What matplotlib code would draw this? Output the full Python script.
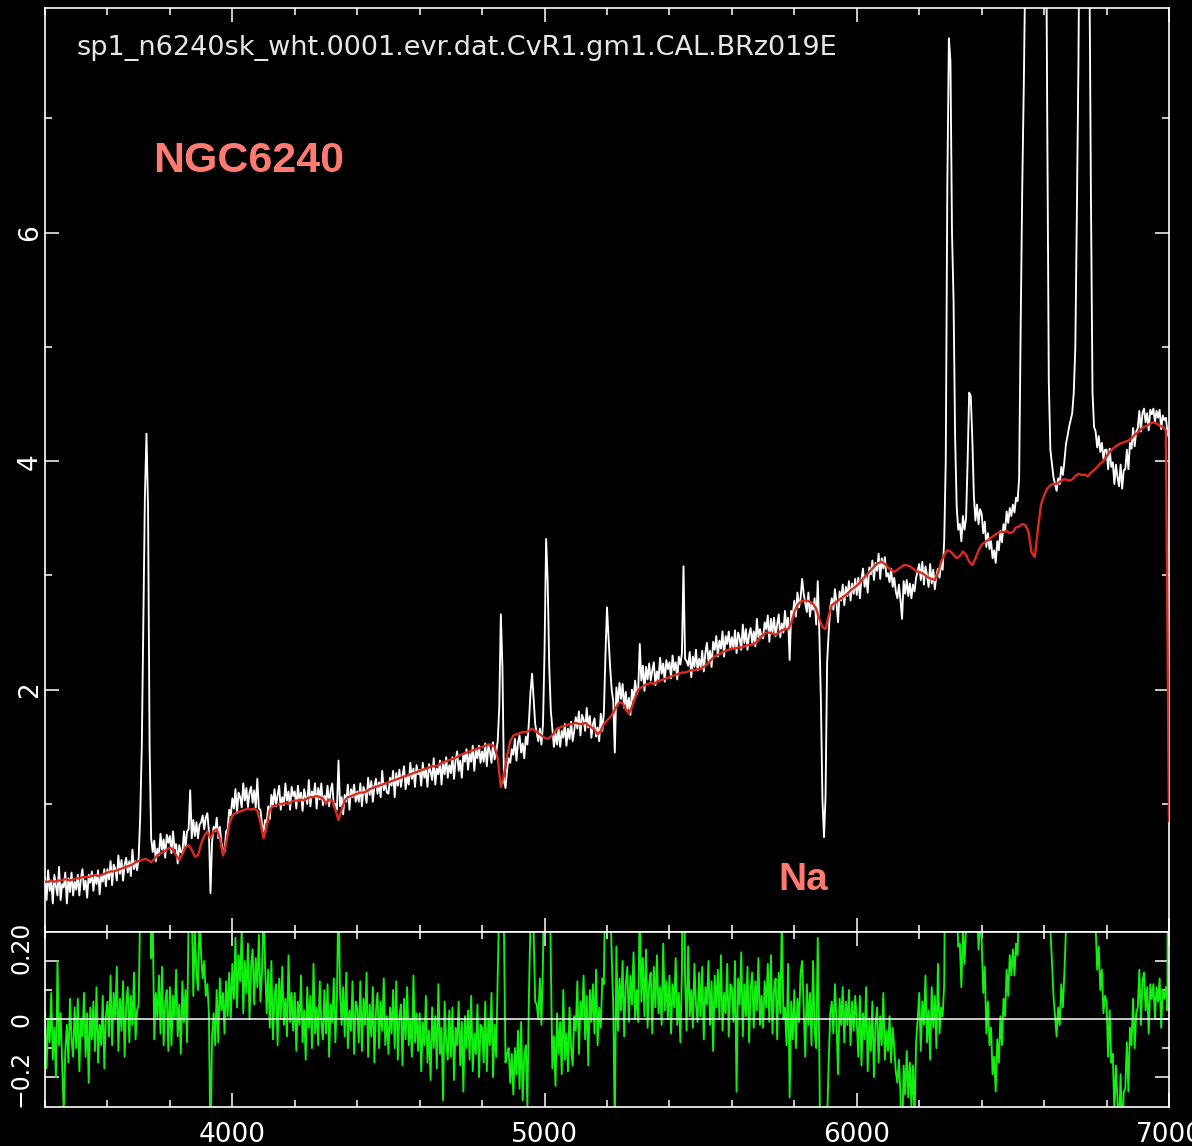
import numpy as np
import matplotlib
matplotlib.use("Agg")
import matplotlib.pyplot as plt
from matplotlib.ticker import FixedLocator, MultipleLocator
from matplotlib import transforms

# ---------------------------------------------------------------------------
# Spectrum of NGC6240 (rest-frame wavelength, Angstrom) with the fitted model
# and the residual.  Values are stored in 100 A blocks starting at 3400 A.
# Observed flux and residual: 5 A steps; model: 10 A steps.
# ---------------------------------------------------------------------------
WAVE_START = 3400
OBS_STEP = 5
MODEL_STEP = 10

title_text = "sp1_n6240sk_wht.0001.evr.dat.CvR1.gm1.CAL.BRz019E"
object_name = "NGC6240"
line_label = "Na"
line_label_wave = 5890

x_tick_labels = [4000, 5000, 6000, 7000]
flux_tick_labels = [2, 4, 6]
resid_tick_labels = [(0.2, "0.20"), (0.0, "0"), (-0.2, "\u22120.2")]

observed_blocks = [
    [.36, .16, .42, .24, .33, .13, .38, .28, .20, .45, .16, .30, .27, .40, .13, .35, .23, .40, .20, .32],
    [.25, .38, .20, .35, .43, .25, .33, .18, .38, .31, .41, .24, .38, .30, .42, .21, .38, .32, .43, .28],
    [.43, .34, .50, .29, .47, .43, .33, .55, .39, .51, .33, .47, .53, .40, .50, .37, .60, .43, .50, .42],
    [.53, .90, 1.50, 2.60, 3.70, 4.24, 3.60, 1.50, .70, .58, .68, .50, .61, .55, .74, .60, .69, .53, .73, .66],
    [.72, .57, .76, .61, .65, .48, .64, .58, .57, .76, .62, .76, .78, 1.12, .70, .86, .72, .84, .70, .82],
    [.84, .90, .78, .88, .92, .76, .22, .66, .80, .76, .88, .70, .80, .66, .60, .58, .76, .78, .95, .90],
    [1.05, .96, 1.13, .92, 1.10, 1.06, .97, 1.18, 1.03, 1.14, .97, 1.10, 1.15, 1.01, 1.12, .97, 1.22, .96, .95, .82],
    [.76, .86, .84, .98, .87, 1.08, .99, 1.13, .98, 1.08, 1.16, .95, 1.06, .99, 1.18, 1.03, 1.11, .95, 1.15, 1.07],
    [1.11, .96, 1.16, 1.03, 1.10, .94, 1.13, 1.06, 1.00, 1.21, .98, 1.11, 1.06, 1.18, .96, 1.14, 1.04, 1.18, .99, 1.07],
    [1.03, 1.16, .98, 1.12, 1.18, .98, 1.00, .95, 1.38, .98, 1.06, .91, 1.08, 1.02, 1.17, .95, 1.13, 1.06, 1.17, 1.02],
    [1.11, 1.02, 1.18, .98, 1.15, 1.11, 1.01, 1.23, 1.08, 1.20, 1.02, 1.16, 1.22, 1.09, 1.19, 1.06, 1.29, 1.12, 1.18, 1.10],
    [1.09, 1.23, 1.16, 1.29, 1.06, 1.27, 1.16, 1.30, 1.15, 1.25, 1.33, 1.13, 1.24, 1.17, 1.36, 1.22, 1.31, 1.15, 1.34, 1.26],
    [1.30, 1.16, 1.36, 1.23, 1.30, 1.15, 1.35, 1.28, 1.21, 1.40, 1.17, 1.31, 1.26, 1.38, 1.17, 1.35, 1.26, 1.41, 1.23, 1.34],
    [1.27, 1.41, 1.22, 1.38, 1.46, 1.29, 1.38, 1.23, 1.44, 1.37, 1.48, 1.30, 1.44, 1.37, 1.51, 1.29, 1.47, 1.40, 1.51, 1.36],
    [1.46, 1.37, 1.53, 1.33, 1.51, 1.46, 1.36, 1.54, 1.39, 1.45, 1.55, 1.85, 2.66, 2.20, 1.20, 1.14, 1.30, 1.40, 1.36, 1.48],
    [1.43, 1.57, 1.38, 1.54, 1.60, 1.45, 1.53, 1.40, 1.59, 1.52, 1.72, 1.98, 2.14, 1.92, 1.70, 1.62, 1.55, 1.66, 1.52, 1.70],
    [2.35, 3.32, 2.95, 2.20, 1.82, 1.66, 1.50, 1.62, 1.52, 1.66, 1.50, 1.64, 1.58, 1.70, 1.51, 1.66, 1.57, 1.72, 1.55, 1.64],
    [1.76, 1.66, 1.81, 1.60, 1.78, 1.74, 1.64, 1.84, 1.67, 1.77, 1.58, 1.70, 1.75, 1.59, 1.67, 1.55, 1.79, 1.64, 1.80, 2.30],
    [2.72, 2.45, 2.20, 2.00, 1.90, 1.45, 2.02, 1.88, 2.06, 1.92, 2.05, 1.84, 1.98, 1.82, 1.93, 1.78, 2.00, 1.90, 2.08, 1.96],
    [2.00, 2.40, 2.08, 2.21, 1.99, 2.20, 2.09, 2.23, 2.08, 2.17, 2.24, 2.04, 2.16, 2.09, 2.28, 2.14, 2.23, 2.07, 2.26, 2.18],
    [2.24, 2.10, 2.30, 2.17, 2.24, 2.09, 2.29, 2.22, 2.32, 3.08, 2.27, 2.25, 2.21, 2.33, 2.11, 2.29, 2.20, 2.35, 2.17, 2.27],
    [2.20, 2.34, 2.16, 2.32, 2.41, 2.25, 2.34, 2.20, 2.42, 2.35, 2.47, 2.29, 2.43, 2.36, 2.51, 2.29, 2.47, 2.40, 2.51, 2.36],
    [2.46, 2.36, 2.52, 2.32, 2.50, 2.45, 2.35, 2.57, 2.41, 2.53, 2.35, 2.48, 2.54, 2.41, 2.51, 2.38, 2.62, 2.46, 2.53, 2.46],
    [2.45, 2.59, 2.53, 2.65, 2.42, 2.62, 2.50, 2.63, 2.47, 2.57, 2.66, 2.46, 2.58, 2.50, 2.69, 2.54, 2.63, 2.26, 2.69, 2.65],
    [2.78, 2.64, 2.85, 2.72, 2.80, 2.97, 2.84, 2.76, 2.68, 2.85, 2.64, 2.76, 2.70, 2.80, 2.57, 2.95, 2.50, 1.92, 1.04, 0.71],
    [1.07, 2.24, 2.50, 2.72, 2.80, 2.70, 2.88, 2.76, 2.59, 2.86, 2.78, 2.92, 2.74, 2.90, 2.82, 2.95, 2.78, 2.93, 2.84, 2.97],
    [2.83, 2.98, 2.80, 2.97, 3.06, 2.90, 2.99, 2.85, 3.07, 3.01, 3.13, 2.96, 3.11, 3.04, 3.19, 2.97, 3.15, 3.06, 3.16, 2.99],
    [3.02, 2.94, 3.06, 2.90, 2.98, 2.86, 2.80, 2.92, 2.78, 2.62, 2.95, 2.84, 2.96, 2.82, 2.93, 2.80, 2.92, 2.86, 2.98, 3.04],
    [3.10, 2.96, 3.12, 2.92, 3.08, 3.00, 2.90, 3.10, 2.93, 3.05, 2.88, 3.00, 3.06, 2.98, 3.10, 3.05, 3.30, 4.00, 6.40, 7.70],
    [7.50, 6.00, 5.40, 4.20, 3.60, 3.40, 3.45, 3.30, 3.52, 3.40, 3.50, 4.00, 4.60, 4.57, 4.20, 3.70, 3.48, 3.62, 3.45, 3.58],
    [3.54, 3.37, 3.47, 3.25, 3.37, 3.23, 3.30, 3.15, 3.22, 3.11, 3.30, 3.22, 3.39, 3.29, 3.45, 3.39, 3.56, 3.46, 3.59, 3.52],
    [3.62, 3.55, 3.68, 3.65, 3.85, 5.20, 6.40, 7.30, 8.40, 10.5, 13.0, 15.5, 17.0, 18.0, 16.5, 15.5, 16.5, 15.0, 13.5, 12.8],
    [11.5, 9.5, 7.0, 4.70, 4.10, 3.98, 3.86, 3.80, 3.74, 3.85, 3.80, 3.95, 3.88, 4.00, 4.15, 4.22, 4.30, 4.36, 4.42, 4.60],
    [5.00, 6.20, 7.50, 9.50, 11.5, 12.0, 11.0, 11.5, 10.0, 8.40, 6.30, 4.60, 4.30, 4.26, 4.12, 4.22, 4.08, 4.16, 4.02, 4.10],
    [4.10, 3.93, 4.11, 3.95, 3.99, 3.80, 3.97, 3.86, 3.78, 3.97, 3.76, 3.92, 3.93, 4.10, 3.93, 4.16, 4.11, 4.29, 4.13, 4.26],
    [4.29, 4.44, 4.26, 4.42, 4.46, 4.34, 4.42, 4.27, 4.45, 4.41, 4.46, 4.34, 4.44, 4.38, 4.45, 4.28, 4.40, 4.36, 4.38, 4.25, 4.20],
]

model_blocks = [
    [.32, .32, .33, .32, .33, .33, .34, .34, .33, .34],
    [.35, .35, .36, .36, .36, .37, .38, .37, .38, .39],
    [.40, .41, .41, .42, .43, .44, .45, .46, .47, .49],
    [.50, .51, .52, .51, .49, .52, .55, .57, .58, .60],
    [.62, .60, .55, .51, .56, .62, .64, .60, .54, .55],
    [.65, .72, .76, .70, .76, .78, .70, .55, .65, .82],
    [.90, .92, .93, .94, .95, .96, .95, .96, .94, .84],
    [.70, .80, .95, .98, .99, 1.00, 1.00, 1.01, 1.00, 1.02],
    [1.03, 1.03, 1.04, 1.03, 1.05, 1.06, 1.06, 1.07, 1.06, 1.05],
    [1.00, 1.04, 1.03, .95, .86, .95, 1.03, 1.06, 1.07, 1.08],
    [1.09, 1.10, 1.10, 1.11, 1.13, 1.14, 1.15, 1.16, 1.17, 1.18],
    [1.19, 1.20, 1.21, 1.22, 1.23, 1.24, 1.25, 1.26, 1.27, 1.28],
    [1.29, 1.30, 1.31, 1.32, 1.33, 1.33, 1.34, 1.36, 1.37, 1.38],
    [1.39, 1.40, 1.41, 1.43, 1.44, 1.45, 1.46, 1.47, 1.48, 1.49],
    [1.50, 1.51, 1.52, 1.52, 1.50, 1.40, 1.15, 1.25, 1.42, 1.55],
    [1.60, 1.61, 1.62, 1.63, 1.63, 1.64, 1.66, 1.64, 1.62, 1.60],
    [1.58, 1.57, 1.59, 1.62, 1.66, 1.67, 1.68, 1.69, 1.70, 1.70],
    [1.71, 1.70, 1.70, 1.71, 1.69, 1.67, 1.65, 1.61, 1.64, 1.70],
    [1.73, 1.76, 1.80, 1.85, 1.89, 1.88, 1.83, 1.79, 1.85, 1.93],
    [2.00, 2.02, 2.04, 2.05, 2.06, 2.05, 2.07, 2.08, 2.09, 2.10],
    [2.11, 2.12, 2.13, 2.14, 2.15, 2.15, 2.16, 2.17, 2.17, 2.18],
    [2.18, 2.20, 2.22, 2.25, 2.28, 2.30, 2.31, 2.33, 2.34, 2.35],
    [2.36, 2.36, 2.37, 2.37, 2.38, 2.39, 2.39, 2.40, 2.42, 2.45],
    [2.48, 2.50, 2.50, 2.49, 2.48, 2.50, 2.52, 2.53, 2.53, 2.58],
    [2.68, 2.74, 2.77, 2.78, 2.78, 2.77, 2.75, 2.71, 2.62, 2.55],
    [2.53, 2.65, 2.74, 2.76, 2.78, 2.80, 2.82, 2.84, 2.87, 2.89],
    [2.91, 2.94, 2.97, 3.00, 3.03, 3.06, 3.09, 3.11, 3.12, 3.10],
    [3.07, 3.05, 3.03, 3.05, 3.07, 3.09, 3.09, 3.08, 3.06, 3.04],
    [3.03, 3.02, 3.00, 2.98, 2.97, 2.96, 3.02, 3.12, 3.18, 3.22],
    [3.21, 3.18, 3.15, 3.17, 3.21, 3.18, 3.12, 3.09, 3.15, 3.22],
    [3.27, 3.29, 3.31, 3.33, 3.35, 3.37, 3.38, 3.38, 3.39, 3.37],
    [3.38, 3.42, 3.43, 3.45, 3.44, 3.38, 3.20, 3.16, 3.40, 3.62],
    [3.70, 3.76, 3.79, 3.80, 3.80, 3.82, 3.84, 3.84, 3.83, 3.84],
    [3.87, 3.89, 3.88, 3.88, 3.87, 3.90, 3.92, 3.95, 3.98, 4.00],
    [4.04, 4.08, 4.11, 4.13, 4.15, 4.16, 4.17, 4.18, 4.20, 4.23],
    [4.25, 4.28, 4.30, 4.31, 4.33, 4.34, 4.33, 4.31, 4.30, 4.27, 0.85],
]

residual_blocks = [
    [.03, -.17, .00, -.08, .09, -.14, -.03, -.20, .20, -.09, .02, -.16, -.32, -.11, -.02, -.15, .07, -.07, -.13, .04],
    [-.10, .07, -.18, .00, -.06, .09, -.13, .02, -.22, .04, -.07, .06, -.11, .11, -.15, -.02, -.09, .08, -.17, .01],
    [.06, -.06, .15, -.09, .09, .00, .18, -.11, .07, -.04, .13, -.13, .05, .11, -.08, .08, -.02, .16, -.07, .03],
    [.05, .40, 1.0, 2.1, 3.2, 3.7, 3.1, 1.0, .21, .35, -.07, .09, .00, .15, -.05, .18, -.09, .06, .10, -.11],
    [.11, -.09, .08, .00, .17, -.06, .05, -.12, .13, -.01, .10, -.08, .36, .50, .40, .08, .30, .16, .10, .36],
    [.22, .14, .20, .08, .12, .02, -.45, -.06, .02, -.09, .10, -.08, .14, .03, .09, -.05, .13, .01, .16, .00],
    [.19, .07, .28, .04, .22, .13, .31, .02, .20, .09, .26, .00, .18, .24, .05, .21, .11, .29, .06, .16],
    [.40, .18, .02, .17, -.03, .20, -.07, .08, .12, -.09, .14, .00, .18, -.02, .07, -.06, .22, -.01, .09, -.04],
    [.09, -.11, .06, -.02, .15, -.08, .03, -.14, .11, -.03, .08, -.10, .19, -.05, .04, -.09, .13, -.01, -.07, .10],
    [-.05, .12, -.13, .05, -.01, .14, -.08, .07, .45, .09, -.02, .11, -.06, .16, -.10, .03, -.04, .13, -.12, .06],
    [.04, -.08, .13, -.11, .07, -.02, .16, -.13, .05, -.06, .11, -.15, .03, .09, -.10, .06, -.04, .14, -.09, .01],
    [-.12, .04, -.05, .10, -.10, .13, -.14, .01, .05, -.16, .07, -.07, .11, -.09, .00, -.13, .15, -.08, .02, -.11],
    [.02, -.18, -.01, -.09, .08, -.15, -.04, -.21, .04, -.10, .01, -.17, .12, -.12, -.03, -.28, .06, -.08, -.14, .03],
    [-.13, .04, -.21, -.03, -.09, .06, -.16, -.01, -.25, .01, -.10, .03, -.14, .08, -.18, -.05, -.12, .05, -.20, -.02],
    [-.03, -.15, .06, -.18, .00, -.09, .09, -.20, -.02, -.13, .15, .40, 1.5, .95, .30, -.15, -.12, -.10, -.22, -.12],
    [-.26, -.10, -.19, -.04, -.24, -.01, -.28, -.13, -.09, -.30, .08, .35, .50, .30, .06, .05, .00, .14, -.02, .20],
    [.75, 1.75, 1.35, .60, .20, -.17, -.06, -.23, .02, -.12, -.01, -.19, .10, -.14, -.05, -.18, .04, -.10, -.16, .01],
    [-.04, .13, -.12, .06, .00, .15, -.07, .08, -.16, .10, -.01, .12, -.05, .17, -.09, .04, -.03, .14, .12, .58],
    [.99, .70, .44, .22, .05, -.38, .25, -.04, .14, .03, .20, -.06, .12, .18, -.01, .15, .05, .23, .00, .10],
    [-.01, .42, .06, .21, .01, .24, -.03, .12, .16, -.05, .18, .04, .22, .02, .11, -.02, .26, .03, .13, .00],
    [.15, -.05, .12, .04, .21, -.02, .09, -.08, .17, .93, .14, -.04, .25, .01, .10, -.03, .19, .05, -.01, .16],
    [.01, .18, -.07, .11, .05, .20, -.02, .13, -.11, .15, .04, .17, .00, .22, -.04, .09, .02, .19, -.06, .12],
    [.11, -.01, .20, -.25, .14, .05, .23, -.06, .12, .01, .18, -.08, .10, .16, -.03, .13, .03, .21, -.02, .08],
    [-.03, .13, .04, .19, -.01, .22, -.05, .10, .14, -.07, .16, .02, .35, .00, .04, -.09, .19, -.27, .06, -.07],
    [.10, -.10, .07, -.01, .16, .20, .04, -.13, .12, -.02, .09, -.09, .20, -.04, -.10, .28, -.12, -.67, -1.5, -1.8],
    [-1.46, -.35, -.15, .02, .06, -.05, .12, -.01, -.19, .07, -.02, .11, -.08, .06, -.02, .10, -.09, .06, -.04, .08],
    [-.01, -.13, .08, -.16, .02, -.07, .11, -.18, .00, -.11, .06, -.20, -.02, .04, -.15, .01, -.09, .09, -.14, -.04],
    [-.11, .01, -.15, -.03, -.10, -.18, -.22, -.14, -.26, -.45, -.16, -.26, -.11, -.27, -.15, -.30, -.16, -.35, -.08, .00],
    [.09, -.11, .06, -.02, .15, -.08, .03, -.14, .11, -.03, .08, -.10, .19, -.05, .04, .01, .12, .85, 3.2, 4.5],
    [4.3, 2.8, 2.2, 1.0, .42, .25, .26, .11, .31, .19, .32, .85, 1.45, 1.44, 1.1, .62, .33, .42, .24, .34],
    [.27, .09, .18, -.05, .06, -.09, -.03, -.19, -.13, -.25, -.07, -.15, .01, -.09, .07, .01, .17, .08, .22, .15],
    [.24, .15, .26, .22, .42, 1.76, 2.95, 3.86, 4.99, 7.1, 9.7, 12.3, 13.8, 14.8, 13.3, 12.3, 13.3, 11.8, 9.3, 7.2],
    [8.3, 5.8, 3.2, .94, .31, .20, .08, .01, -.06, .04, -.02, .12, .04, .16, .31, .38, .47, .53, .58, .75],
    [1.13, 2.32, 3.61, 5.6, 7.6, 8.1, 7.1, 7.6, 6.13, 4.5, 2.4, .69, .38, .32, .17, .25, .10, .17, .02, .08],
    [.06, -.13, .03, -.15, -.12, -.32, -.16, -.28, -.37, -.19, -.40, -.25, -.24, -.08, -.25, -.03, -.09, .07, -.10, .02],
    [.04, .17, -.02, .13, .16, .03, .11, -.05, .12, .07, .12, .00, .11, .06, .14, -.03, .10, .07, .11, .03, 3.35],
]


def unpack(blocks, step, start=WAVE_START, span=100):
    """Turn 100 A blocks into (wavelength, value) arrays."""
    waves, vals = [], []
    for k, blk in enumerate(blocks):
        w0 = start + k * span
        waves.extend(w0 + step * np.arange(len(blk)))
        vals.extend(blk)
    return np.asarray(waves, float), np.asarray(vals, float)


wave_obs, flux_obs = unpack(observed_blocks, OBS_STEP)
wave_mod, flux_mod = unpack(model_blocks, MODEL_STEP)
wave_res, flux_res = unpack(residual_blocks, OBS_STEP)

# ---------------------------------------------------------------------------
W, H = 1192, 1146
fig = plt.figure(figsize=(W / 100, H / 100), dpi=100, facecolor="black")


def px_box(left, top, right, bottom):
    return [left / W, 1 - bottom / H, (right - left) / W, (bottom - top) / H]


ax = fig.add_axes(px_box(45, 7.5, 1169, 932))
axr = fig.add_axes(px_box(45, 932, 1169, 1107))

FG = "white"
for a in (ax, axr):
    a.set_facecolor("black")
    for s in a.spines.values():
        s.set_color(FG)
        s.set_linewidth(1.2)
    a.set_xlim(3400, 7000)
    a.xaxis.set_major_locator(MultipleLocator(1000))
    a.xaxis.set_minor_locator(MultipleLocator(200))
    a.tick_params(which="both", direction="in", colors=FG, top=True, right=True,
                  width=1.1, labelbottom=False, labelleft=False)
    a.tick_params(which="major", length=10)
    a.tick_params(which="minor", length=5)

# upper panel: flux and model
ax.set_ylim(-0.12, 7.97)
ax.yaxis.set_major_locator(FixedLocator([2, 4, 6]))
ax.yaxis.set_minor_locator(FixedLocator([1, 3, 5, 7]))
ax.plot(wave_obs, flux_obs, color="white", lw=1.35, zorder=2)
ax.plot(wave_mod, flux_mod, color="#DC2A1E", lw=1.7, zorder=3)

# lower panel: residual
axr.set_ylim(-0.303, 0.30)
axr.yaxis.set_major_locator(FixedLocator([-0.2, 0.0, 0.2]))
axr.yaxis.set_minor_locator(FixedLocator([-0.1, 0.1]))
axr.plot(wave_res, flux_res, color="#12F012", lw=1.35, zorder=2)
axr.axhline(0.0, color=FG, lw=1.1, zorder=3)

# tick labels drawn as rotated text, as on the original plotting device
lab_font = dict(color=FG, fontsize=19, family="DejaVu Sans")
tr_left = transforms.blended_transform_factory(fig.transFigure, ax.transData)
for v in flux_tick_labels:
    ax.text(30 / W, v, str(v), transform=tr_left, rotation=90,
            ha="center", va="center", **lab_font)

tr_left_r = transforms.blended_transform_factory(fig.transFigure, axr.transData)
for v, s in resid_tick_labels:
    pos = {0.2: 0.245, 0.0: 0.0, -0.2: -0.203}[v]
    axr.text(21 / W, pos, s, transform=tr_left_r, rotation=90,
             ha="center", va="center", color=FG, fontsize=17)

tr_bottom = transforms.blended_transform_factory(axr.transData, fig.transFigure)
for v in x_tick_labels:
    axr.text(v, 1 - 1142 / H, str(v), transform=tr_bottom,
             ha="center", va="baseline", **lab_font)

# annotations
fig.text(77 / W, 1 - 55 / H, title_text, ha="left", va="baseline",
         color="#E6E6E6", fontsize=19.5, family="DejaVu Sans")
fig.text(153 / W, 1 - 172 / H, object_name, ha="left", va="baseline",
         color="#FF7B72", fontsize=31, fontweight="bold", family="Liberation Sans")
fig.text(778 / W, 1 - 890 / H, line_label, ha="left", va="baseline",
         color="#FF7B72", fontsize=28, fontweight="bold", family="Liberation Sans")

fig.savefig("out.png", dpi=100, facecolor="black")
